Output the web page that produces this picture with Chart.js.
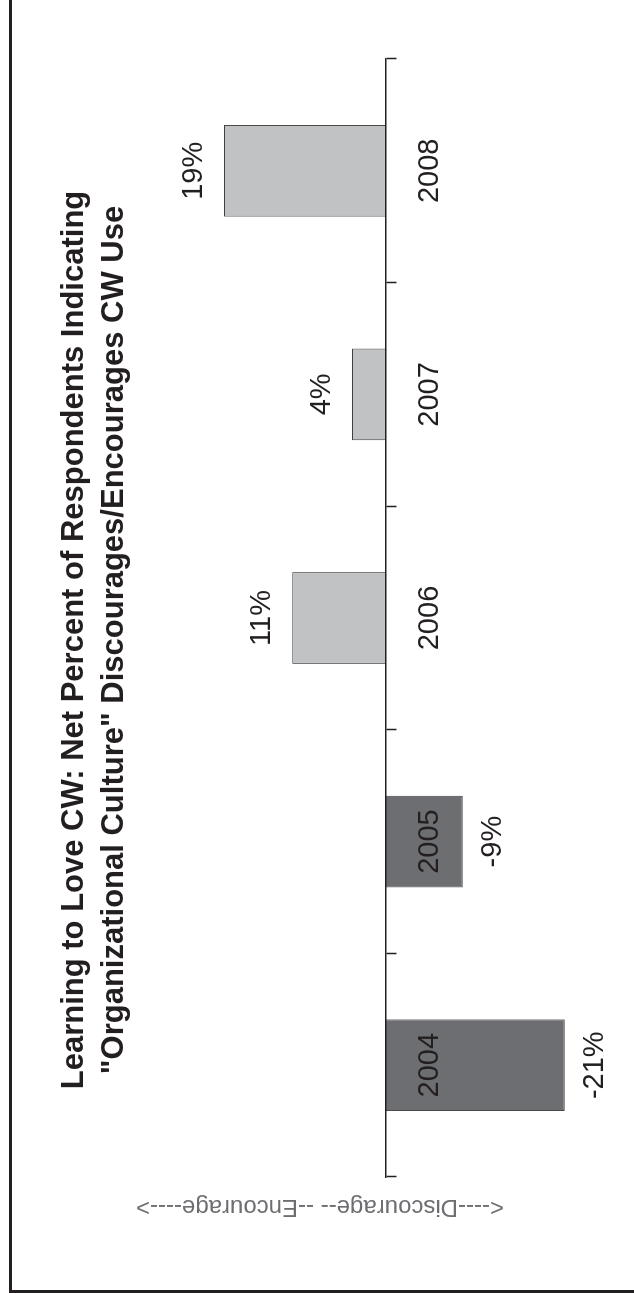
<!DOCTYPE html>
<html>
<head>
<meta charset="utf-8">
<script src="https://cdn.jsdelivr.net/npm/chart.js@4.4.1/dist/chart.umd.min.js"></script>
<style>
  html, body { margin: 0; padding: 0; background: #fff; }
  body { width: 634px; height: 1293px; position: relative; overflow: hidden; }
  /* chart is laid out landscape, then turned a quarter to the left */
  .rot { position: absolute; left: 0; top: 0; width: 1293px; height: 634px;
         transform-origin: 0 0; transform: translateY(1293px) rotate(-90deg); }
  .frame { position: absolute; left: 9px; top: 0; width: 625px; height: 1293px; box-sizing: border-box;
           border-left: 3px solid #231f20; border-bottom: 3px solid #231f20; pointer-events: none; }
</style>
</head>
<body>
<div class="rot"><canvas id="chart" width="1293" height="634"></canvas></div>
<div class="frame"></div>
<script>
const years = ["2004", "2005", "2006", "2007", "2008"];
const netPercent = [-21, -9, 11, 4, 19];
const titleLines = [
  "Learning to Love CW: Net Percent of Respondents Indicating",
  "\"Organizational Culture\" Discourages/Encourages CW Use"
];
const axisTitle = "<----Discourage-- --Encourage---->";

const ink = "#231f20";
const darkBar = "#6d6e71";
const lightBar = "#c1c2c4";
const fontFamily = "'Liberation Sans', Arial, Helvetica, sans-serif";

Chart.defaults.font.family = fontFamily;
Chart.defaults.color = ink;

// percent labels just past the end of each bar
const valueLabels = {
  id: "valueLabels",
  afterDatasetsDraw(chart) {
    const ctx = chart.ctx;
    const meta = chart.getDatasetMeta(0);
    ctx.save();
    ctx.font = "29px " + fontFamily;
    ctx.fillStyle = ink;
    ctx.textAlign = "center";
    ctx.textBaseline = "alphabetic";
    meta.data.forEach((bar, i) => {
      const v = netPercent[i];
      const y = v >= 0 ? bar.y - 22 : bar.y + 38;
      ctx.fillText(v + "%", bar.x, y);
    });
    ctx.restore();
  }
};

const ctx = document.getElementById("chart").getContext("2d");
const chart = new Chart(ctx, {
  type: "bar",
  data: {
    labels: years,
    datasets: [{
      data: netPercent,
      backgroundColor: netPercent.map(v => (v < 0 ? darkBar : lightBar)),
      borderColor: "#414143",
      borderWidth: 1,
      categoryPercentage: 1,
      barPercentage: 0.41,
      clip: false
    }]
  },
  options: {
    responsive: false,
    animation: false,
    layout: { padding: { left: 72, right: 59, top: 0, bottom: 136 } },
    plugins: {
      legend: { display: false },
      tooltip: { enabled: false },
      title: {
        display: true,
        text: titleLines,
        color: ink,
        font: { size: 31, weight: "bold", lineHeight: 1.3 },
        padding: { top: 54, bottom: 7.4 }
      }
    },
    scales: {
      x: {
        position: { y: 0 },
        afterFit: s => { s.height = 0; },
        grid: {
          display: true,
          drawOnChartArea: false,
          offset: true,
          tickLength: 10,
          tickColor: ink,
          tickWidth: 1.5,
          z: 1
        },
        border: { display: true, color: ink, width: 1.5, z: 1 },
        ticks: { color: ink, font: { size: 29 }, padding: 17, z: 1 }
      },
      y: {
        min: -13.15,
        max: 28.64,
        afterFit: s => { s.width = 44; },
        ticks: { display: false },
        grid: { display: false, drawTicks: false },
        border: { display: false },
        title: {
          display: true,
          text: axisTitle,
          color: "#6d6e71",
          font: { size: 24 },
          padding: 0
        }
      }
    }
  },
  plugins: [valueLabels]
});
</script>
</body>
</html>
